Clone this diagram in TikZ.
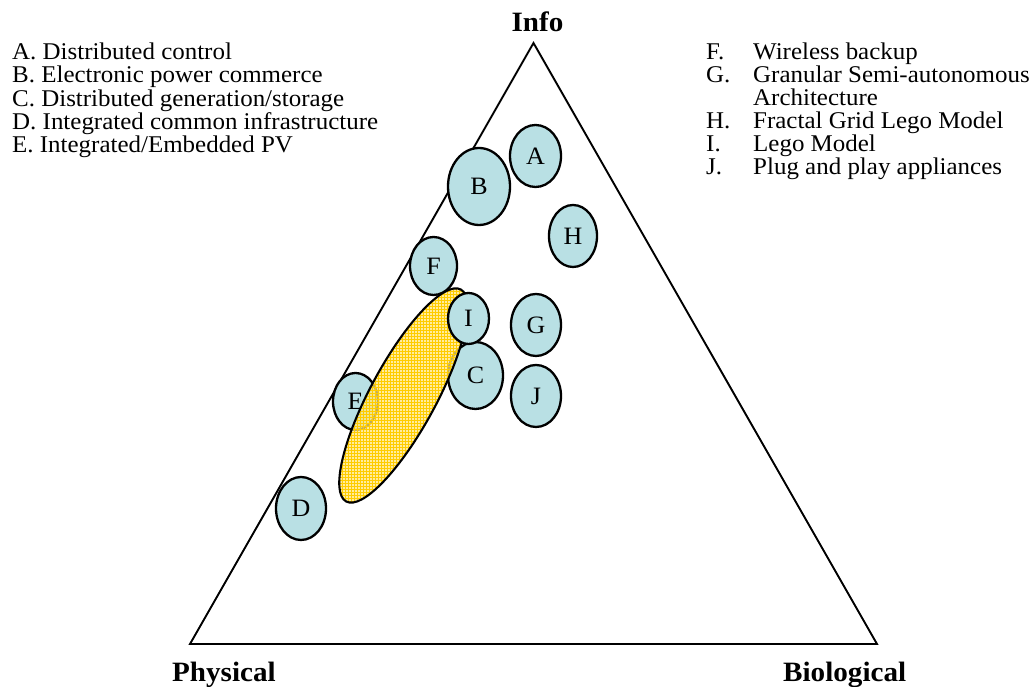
\documentclass[tikz,border=0pt]{standalone}
\usepackage{fontspec}
\setmainfont{Liberation Serif}[FakeStretch=1.04]
\usetikzlibrary{shapes.geometric,patterns}

\definecolor{bubblefill}{RGB}{185,224,228}
\definecolor{pvyellow}{RGB}{255,230,125}
\definecolor{pvgrid}{RGB}{255,204,0}

\begin{document}
\begin{tikzpicture}[x=1pt,y=1pt,
  bubble/.style={ellipse, draw=black, line width=2.3pt, fill=bubblefill,
    inner sep=0pt, font=\fontsize{25}{25}\selectfont},
  pvzone/.style={ellipse, draw=black, line width=2.1pt, inner sep=0pt,
    fill opacity=0.75,
    preaction={fill=pvyellow, fill opacity=0.75},
    pattern=grid, pattern color=pvgrid},
  legend/.style={anchor=base west, inner sep=0pt,
    font=\fontsize{24}{23}\selectfont},
  corner/.style={inner sep=0pt, font=\fontsize{28}{30}\selectfont\bfseries}
]
\useasboundingbox (0,0) rectangle (1031,687);

% the Physical / Info / Biological triangle
\coordinate (top) at (533.5,644);
\coordinate (left) at (190,43);
\coordinate (right) at (877,43);
\draw[line width=1.9pt, line join=miter] (left) -- (top) -- (right) -- cycle;

\node[corner, anchor=base] (info) at (537.5,655) {Info};
\node[corner, anchor=base west] (phys) at (172,5) {Physical};
\node[corner, anchor=base west] (bio) at (783,5) {Biological};

% technologies placed inside the triangle
\node[bubble, minimum width=51, minimum height=62] (A) at (535.5,531) {A};
\node[bubble, minimum width=62, minimum height=77] (B) at (479,500.5) {B};
\node[bubble, minimum width=48, minimum height=62] (H) at (573,451) {H};
\node[bubble, minimum width=50, minimum height=62] (G) at (536,362) {G};
\node[bubble, minimum width=50, minimum height=62] (J) at (536,291) {J};
\node[bubble, minimum width=55, minimum height=67] (C) at (475.5,311.5) {C};
\node[bubble, minimum width=45, minimum height=57] (E) at (355.5,285.5) {E};
\node[bubble, minimum width=50, minimum height=63] (D) at (301,178.5) {D};
\node[bubble, minimum width=47, minimum height=58] (F) at (433.5,421) {F};

% highlighted zone across the physical side
\node[pvzone, rotate=61.6, minimum width=241, minimum height=66] (pv) at (403.5,291.5) {};

\node[bubble, minimum width=41, minimum height=51] (I) at (468.5,368.5) {I};

% legend, left column
\node[legend] (legA) at (12,627) {A. Distributed control};
\node[legend] (legB) at (12,604) {B. Electronic power commerce};
\node[legend] (legC) at (12,580) {C. Distributed generation/storage};
\node[legend] (legD) at (12,557) {D. Integrated common infrastructure};
\node[legend] (legE) at (12,534) {E. Integrated/Embedded PV};

% legend, right column
\node[legend] (keyF) at (706,627) {F.};
\node[legend] (legF) at (753,627) {Wireless backup};
\node[legend] (keyG) at (706,604) {G.};
\node[legend] (legG) at (753,604) {Granular Semi-autonomous};
\node[legend] (legG2) at (753,581) {Architecture};
\node[legend] (keyH) at (706,558) {H.};
\node[legend] (legH) at (753,558) {Fractal Grid Lego Model};
\node[legend] (keyI) at (706,535) {I.};
\node[legend] (legI) at (753,535) {Lego Model};
\node[legend] (keyJ) at (706,512) {J.};
\node[legend] (legJ) at (753,512) {Plug and play appliances};
\end{tikzpicture}
\end{document}
